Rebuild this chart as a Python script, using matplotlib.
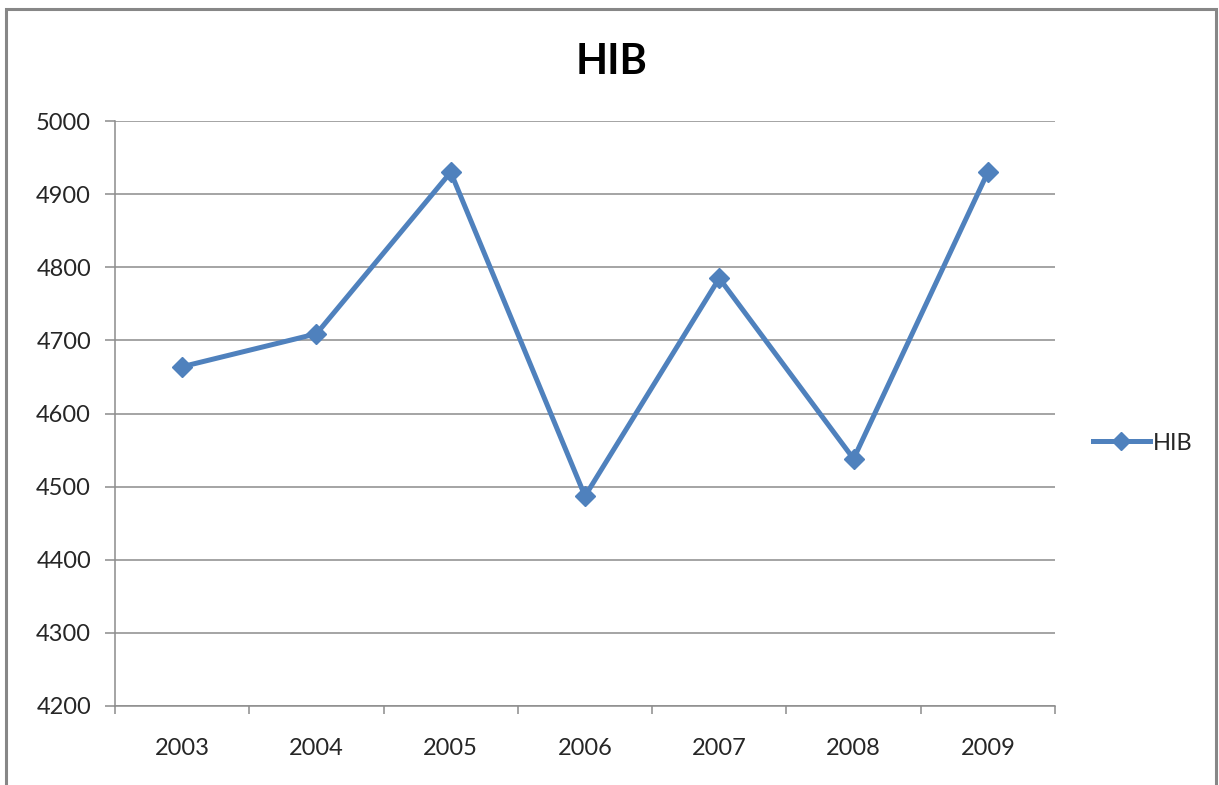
import matplotlib
matplotlib.use("Agg")
import matplotlib.pyplot as plt
from matplotlib.patches import Rectangle
from matplotlib.ticker import FixedLocator, MultipleLocator

years = ["2003", "2004", "2005", "2006", "2007", "2008", "2009"]
hib_values = [4664, 4709, 4930, 4487, 4785, 4538, 4930]
series_name = "HIB"
title = "HIB"

W, H = 1219, 785
plt.rcParams['font.family'] = ['Lato', 'DejaVu Sans']
fig = plt.figure(figsize=(W / 100, H / 100), dpi=100)

ax = fig.add_axes([115 / W, 1 - 706 / H, (1055 - 115) / W, (706 - 121) / H])
x = list(range(len(years)))
ax.plot(x, hib_values, color="#4F81BD", lw=3.6, marker="D", markersize=10.5,
        markerfacecolor="#4F81BD", markeredgecolor="#4F81BD",
        solid_joinstyle="miter", label=series_name)

ax.set_xlim(-0.5, len(years) - 0.5)
ax.set_ylim(4200, 5000)
ax.yaxis.set_major_locator(MultipleLocator(100))
ax.set_xticks(x)
ax.set_xticklabels(years)
ax.xaxis.set_minor_locator(FixedLocator([i - 0.5 for i in range(len(years) + 1)]))

grid_c = "#8C8C8C"
ax.grid(axis="y", color=grid_c, lw=1.1)
ax.set_axisbelow(True)
for s in ["top", "right"]:
    ax.spines[s].set_visible(False)
for s in ["left", "bottom"]:
    ax.spines[s].set_color(grid_c)
    ax.spines[s].set_linewidth(1.1)

ax.tick_params(axis="y", which="major", length=7.2, width=1.1, color=grid_c,
               labelsize=17, labelcolor="#262626", pad=10)
ax.tick_params(axis="x", which="major", length=0, labelsize=17,
               labelcolor="#262626", pad=23)
ax.tick_params(axis="x", which="minor", length=6, width=1.1, color=grid_c)

fig.text(612 / W, 1 - 62 / H, title, ha="center", va="center",
         fontsize=30, fontweight="bold", color="#000000")

ax.legend(loc="center left", bbox_to_anchor=(1093 / W, 1 - 443 / H),
          bbox_transform=fig.transFigure, frameon=False, borderpad=0,
          borderaxespad=0, handlelength=2.4, handletextpad=0.15,
          fontsize=17, labelcolor="#262626", numpoints=1, markerscale=0.85)

border = Rectangle((6 / W, -0.05), (1216 - 6) / W, 1.05 - 9 / H,
                   transform=fig.transFigure, fill=False,
                   edgecolor="#878787", lw=2.2, clip_on=False)
fig.patches.append(border)

fig.savefig("out.png", dpi=100, facecolor="white")
